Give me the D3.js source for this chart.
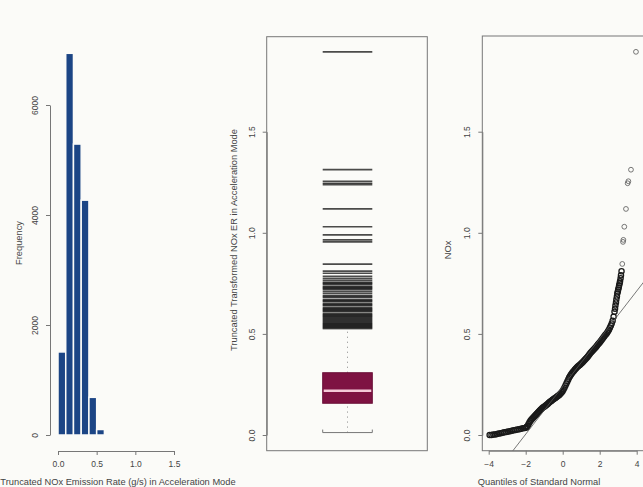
<!DOCTYPE html>
<html>
<head>
<meta charset="utf-8">
<script src="https://cdn.jsdelivr.net/npm/d3@7"></script>
<style>
  body { margin: 0; background: #fbfbf8; }
  text { font-family: "Liberation Sans", Arial, sans-serif; fill: #444; }
</style>
</head>
<body>
<div id="chart"></div>
<script>
// histogram of truncated NOx ER
var binStarts = [0.0, 0.1, 0.2, 0.3, 0.4, 0.5];
var binCounts = [1510, 6940, 5290, 4270, 685, 100];
var histXTicks = [0.0, 0.5, 1.0, 1.5];
var histYTicks = [0, 2000, 4000, 6000];

// boxplot stats
var boxStats = { low: 0.012, q1: 0.157, median: 0.219, q3: 0.308, high: 0.525 };
var boxOutliers = [1.895, 1.312, 1.255, 1.245, 1.238, 1.118, 1.03, 0.99, 0.965, 0.955, 0.845,
  0.81, 0.80, 0.785, 0.775, 0.765, 0.755, 0.75, 0.745, 0.735, 0.73, 0.725, 0.72, 0.71, 0.70,
  0.69, 0.685, 0.68, 0.67, 0.665, 0.66, 0.65, 0.645, 0.64, 0.63, 0.625, 0.62, 0.615, 0.61,
  0.60, 0.595, 0.59, 0.585, 0.58, 0.575, 0.57, 0.565, 0.56, 0.555, 0.55, 0.545, 0.54, 0.535, 0.53];
var boxYTicks = [0.0, 0.5, 1.0, 1.5];

// qq plot points: [theoretical quantile, sample value]
var qqPoints = [
  [-3.95, 0.0], [-3.85, 0.0], [-3.75, 0.002], [-3.65, 0.003], [-3.55, 0.005], [-3.45, 0.007],
  [-3.35, 0.009], [-3.25, 0.011], [-3.15, 0.013], [-3.05, 0.015], [-2.95, 0.017], [-2.85, 0.019],
  [-2.75, 0.021], [-2.65, 0.023], [-2.55, 0.025], [-2.45, 0.027], [-2.35, 0.029], [-2.25, 0.031],
  [-2.15, 0.033], [-2.05, 0.035], [-2.0, 0.036], [-1.95, 0.040], [-1.9, 0.045], [-1.85, 0.053],
  [-1.8, 0.062], [-1.75, 0.069], [-1.7, 0.075], [-1.65, 0.080], [-1.6, 0.085], [-1.55, 0.090],
  [-1.5, 0.095], [-1.45, 0.100], [-1.4, 0.105], [-1.35, 0.110], [-1.3, 0.115], [-1.25, 0.120],
  [-1.2, 0.125], [-1.15, 0.129], [-1.1, 0.133], [-1.05, 0.137], [-1.0, 0.140], [-0.95, 0.144],
  [-0.9, 0.147], [-0.85, 0.151], [-0.8, 0.155], [-0.75, 0.159], [-0.7, 0.163], [-0.65, 0.167],
  [-0.6, 0.170], [-0.55, 0.174], [-0.5, 0.177], [-0.45, 0.180], [-0.4, 0.183], [-0.35, 0.187],
  [-0.3, 0.190], [-0.25, 0.194], [-0.2, 0.197], [-0.15, 0.201], [-0.1, 0.206], [-0.05, 0.212],
  [0.0, 0.218], [0.05, 0.226], [0.1, 0.235], [0.15, 0.245], [0.2, 0.255], [0.25, 0.265],
  [0.3, 0.275], [0.35, 0.284], [0.4, 0.292], [0.45, 0.299], [0.5, 0.305], [0.55, 0.311],
  [0.6, 0.317], [0.65, 0.323], [0.7, 0.328], [0.75, 0.333], [0.8, 0.337], [0.85, 0.341],
  [0.9, 0.345], [0.95, 0.349], [1.0, 0.353], [1.05, 0.357], [1.1, 0.362], [1.15, 0.367],
  [1.2, 0.372], [1.25, 0.377], [1.3, 0.382], [1.35, 0.387], [1.4, 0.393], [1.45, 0.399],
  [1.5, 0.405], [1.55, 0.410], [1.6, 0.415], [1.65, 0.420], [1.7, 0.425], [1.75, 0.430],
  [1.8, 0.435], [1.85, 0.441], [1.9, 0.447], [1.95, 0.452], [2.0, 0.458], [2.05, 0.464],
  [2.1, 0.470], [2.15, 0.476], [2.2, 0.482], [2.25, 0.488], [2.3, 0.494], [2.35, 0.500],
  [2.4, 0.506], [2.45, 0.513], [2.5, 0.520], [2.55, 0.530], [2.6, 0.540], [2.65, 0.552],
  [2.7, 0.565], [2.75, 0.585], [2.8, 0.61], [2.83, 0.625], [2.85, 0.64], [2.88, 0.655],
  [2.9, 0.67], [2.93, 0.685], [2.95, 0.70], [2.98, 0.71], [3.0, 0.72], [3.03, 0.73],
  [3.05, 0.74], [3.08, 0.75], [3.1, 0.76], [3.13, 0.775], [3.15, 0.79], [3.18, 0.81],
  [3.22, 0.846], [3.26, 0.955], [3.28, 0.965], [3.33, 1.03], [3.42, 1.118], [3.51, 1.245],
  [3.55, 1.255], [3.69, 1.312], [3.96, 1.895]
];
var qqLine = { intercept: 0.24, slope: 0.118 };
var qqXTicks = [-4, -2, 0, 2, 4];
var qqYTicks = [0.0, 0.5, 1.0, 1.5];

var svg = d3.select("#chart")
    .append("svg")
    .attr("width", 643)
    .attr("height", 487)
    .style("background", "#fbfbf8");

var axisColor = "#777";
var tickFont = "8.5px";
var labelFont = "9.3px";

// ---------- panel 1: histogram ----------
var hx = d3.scaleLinear().domain([0, 1.5]).range([58, 174]);
var hy = d3.scaleLinear().domain([0, 6000]).range([435, 105]);

var hist = svg.append("g").attr("id", "hist");
hist.selectAll("rect")
    .data(binStarts)
    .enter()
    .append("rect")
    .attr("x", function(d) { return hx(d); })
    .attr("y", function(d, i) { return hy(binCounts[i]); })
    .attr("width", hx(0.1) - hx(0))
    .attr("height", function(d, i) { return hy(0) - hy(binCounts[i]); })
    .style("fill", "#1c4585")
    .style("stroke", "#fbfbf8")
    .style("stroke-width", 1.5);

var hAxisX = hist.append("g")
    .attr("transform", "translate(0,451)")
    .call(d3.axisBottom(hx).tickValues(histXTicks).tickFormat(d3.format(".1f")).tickSize(4).tickSizeOuter(0));
var hAxisY = hist.append("g")
    .attr("transform", "translate(50,0)")
    .call(d3.axisLeft(hy).tickValues(histYTicks).tickFormat(d3.format("d")).tickSize(4).tickSizeOuter(0));

hist.append("text")
    .attr("transform", "translate(22,243) rotate(-90)")
    .attr("text-anchor", "middle")
    .style("font-size", labelFont)
    .text("Frequency");
hist.append("text")
    .attr("x", 118)
    .attr("y", 485)
    .attr("text-anchor", "middle")
    .style("font-size", labelFont)
    .text("Truncated NOx Emission Rate (g/s) in Acceleration Mode");

// ---------- panel 2: boxplot ----------
var by = d3.scaleLinear().domain([0, 1.5]).range([435, 131.7]);
var bLeft = 266.7, bRight = 427.3, bTop = 36.7, bBottom = 450.7;
var boxL = 322.7, boxR = 372.3, boxMid = (boxL + boxR) / 2;

var box = svg.append("g").attr("id", "box");
box.append("rect")
    .attr("x", bLeft).attr("y", bTop)
    .attr("width", bRight - bLeft).attr("height", bBottom - bTop)
    .style("fill", "none").style("stroke", axisColor);

// whiskers
box.append("line")
    .attr("x1", boxMid).attr("x2", boxMid)
    .attr("y1", by(boxStats.low)).attr("y2", by(boxStats.q1))
    .style("stroke", "#888").style("stroke-dasharray", "1,4");
box.append("line")
    .attr("x1", boxMid).attr("x2", boxMid)
    .attr("y1", by(boxStats.q3)).attr("y2", by(boxStats.high))
    .style("stroke", "#888").style("stroke-dasharray", "1,4");
box.append("path")
    .attr("d", "M" + boxL + "," + (by(boxStats.low) - 3) + "V" + by(boxStats.low) + "H" + boxR + "V" + (by(boxStats.low) - 3))
    .style("fill", "none").style("stroke", "#777");
box.append("line")
    .attr("x1", boxL).attr("x2", boxR)
    .attr("y1", by(boxStats.high)).attr("y2", by(boxStats.high))
    .style("stroke", "#333");

box.append("rect")
    .attr("x", boxL).attr("y", by(boxStats.q3))
    .attr("width", boxR - boxL).attr("height", by(boxStats.q1) - by(boxStats.q3))
    .style("fill", "#7e1242").style("stroke", "#6a1038");
box.append("line")
    .attr("x1", boxL + 1).attr("x2", boxR - 1)
    .attr("y1", by(boxStats.median)).attr("y2", by(boxStats.median))
    .style("stroke", "#f4c9d8").style("stroke-width", 2.5);

box.selectAll(".out")
    .data(boxOutliers)
    .enter()
    .append("line")
    .attr("class", "out")
    .attr("x1", boxL).attr("x2", boxR)
    .attr("y1", function(d) { return by(d); })
    .attr("y2", function(d) { return by(d); })
    .style("stroke", "#000")
    .style("stroke-opacity", 0.7)
    .style("stroke-width", 1.7);

var bAxisY = box.append("g")
    .attr("transform", "translate(" + bLeft + ",0)")
    .call(d3.axisLeft(by).tickValues(boxYTicks).tickFormat(d3.format(".1f")).tickSize(4).tickSizeOuter(0));

box.append("text")
    .attr("transform", "translate(237,240) rotate(-90)")
    .attr("text-anchor", "middle")
    .style("font-size", labelFont)
    .text("Truncated Transformed NOx ER in Acceleration Mode");

// ---------- panel 3: normal qq plot ----------
var qx = d3.scaleLinear().domain([-4, 4]).range([488.7, 636.7]);
var qy = d3.scaleLinear().domain([0, 1.5]).range([435, 131.7]);
var qLeft = 482.3, qRight = 643.5, qTop = 36, qBottom = 450.7;

var qq = svg.append("g").attr("id", "qq");
qq.append("defs").append("clipPath").attr("id", "qclip")
    .append("rect").attr("x", qLeft).attr("y", qTop)
    .attr("width", qRight - qLeft).attr("height", qBottom - qTop);
qq.append("rect")
    .attr("x", qLeft).attr("y", qTop)
    .attr("width", qRight - qLeft).attr("height", qBottom - qTop)
    .style("fill", "none").style("stroke", axisColor);

// dense part drawn heavier, the sparse upper tail thinner
qq.append("g").attr("clip-path", "url(#qclip)")
    .selectAll("circle")
    .data(qqPoints)
    .enter()
    .append("circle")
    .attr("cx", function(d) { return qx(d[0]); })
    .attr("cy", function(d) { return qy(d[1]); })
    .attr("r", function(d) { return d[1] > 0.82 ? 2.4 : 2.6; })
    .style("fill", "none")
    .style("stroke", function(d) { return d[1] > 0.82 ? "#555" : "#1a1a1a"; })
    .style("stroke-width", function(d) { return d[1] > 0.82 ? 0.8 : 1.3; });

qq.append("g").attr("clip-path", "url(#qclip)")
    .append("line")
    .attr("x1", qx(-5)).attr("x2", qx(5))
    .attr("y1", qy(qqLine.intercept + qqLine.slope * -5))
    .attr("y2", qy(qqLine.intercept + qqLine.slope * 5))
    .style("stroke", "#555").style("stroke-width", 0.8);

var qAxisX = qq.append("g")
    .attr("transform", "translate(0," + qBottom + ")")
    .call(d3.axisBottom(qx).tickValues(qqXTicks).tickFormat(d3.format("d")).tickSize(4).tickSizeOuter(0));
var qAxisY = qq.append("g")
    .attr("transform", "translate(" + qLeft + ",0)")
    .call(d3.axisLeft(qy).tickValues(qqYTicks).tickFormat(d3.format(".1f")).tickSize(4).tickSizeOuter(0));

qq.append("text")
    .attr("transform", "translate(451,250) rotate(-90)")
    .attr("text-anchor", "middle")
    .style("font-size", labelFont)
    .text("NOx");
qq.append("text")
    .attr("x", 539)
    .attr("y", 485)
    .attr("text-anchor", "middle")
    .style("font-size", labelFont)
    .text("Quantiles of Standard Normal");

// shared axis styling: R style, gray lines, rotated y labels
[hAxisX, hAxisY, bAxisY, qAxisX, qAxisY].forEach(function(a) {
    a.select(".domain").style("stroke", axisColor);
    a.selectAll(".tick line").style("stroke", axisColor);
    a.selectAll(".tick text").style("font-size", tickFont).style("fill", "#444")
        .style("font-family", "Liberation Sans, Arial, sans-serif");
});
[hAxisX, qAxisX].forEach(function(a) {
    a.selectAll(".tick text").attr("y", 10);
});
[hAxisY, bAxisY, qAxisY].forEach(function(a) {
    a.selectAll(".tick text")
        .attr("x", null).attr("dy", null)
        .attr("text-anchor", "middle")
        .attr("transform", "translate(-12,0) rotate(-90)");
});
</script>
</body>
</html>
